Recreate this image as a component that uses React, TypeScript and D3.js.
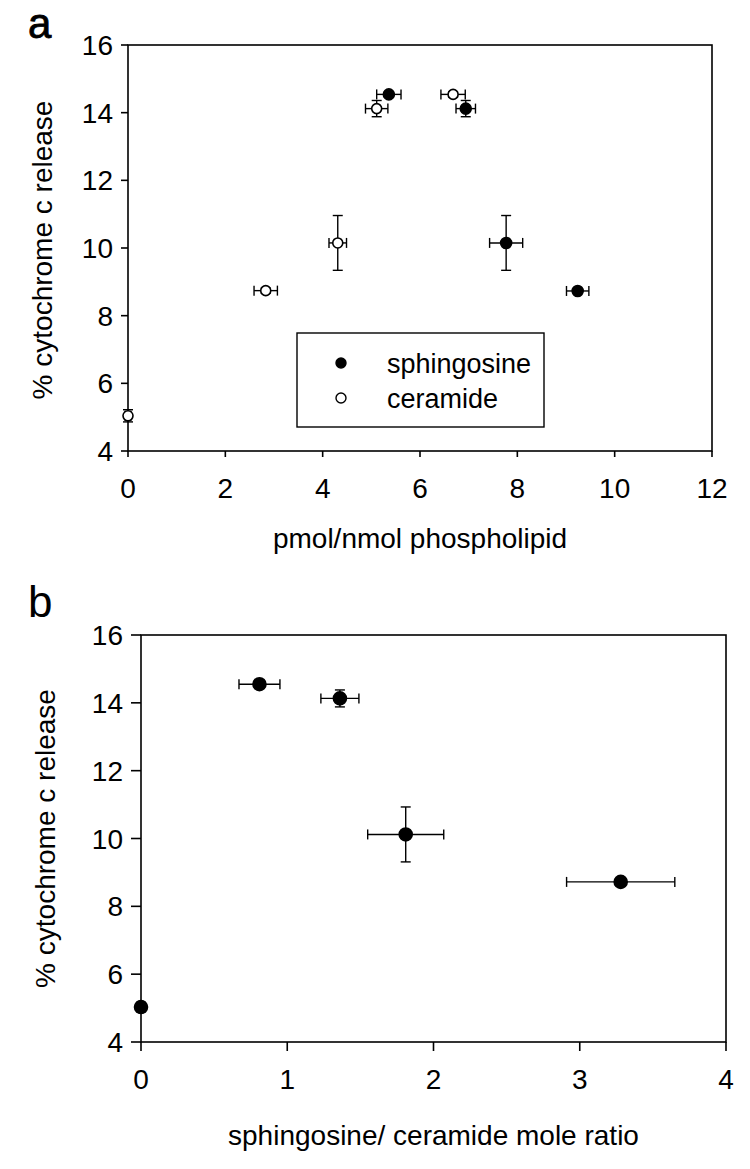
import React from "react";
import * as d3 from "d3";

// ---- Data ----
// Panel a: pmol/nmol phospholipid vs % cytochrome c release
const sphA_x = [5.36, 6.94, 7.77, 9.24];
const sphA_y = [14.54, 14.12, 10.15, 8.73];
const sphA_xerr = [0.25, 0.2, 0.34, 0.23];
const sphA_yerr = [0.08, 0.24, 0.81, 0.08];

const cerA_x = [0, 2.83, 4.31, 5.11, 6.68];
const cerA_y = [5.04, 8.74, 10.15, 14.12, 14.54];
const cerA_xerr = [0.06, 0.24, 0.18, 0.23, 0.25];
const cerA_yerr = [0.18, 0.08, 0.81, 0.24, 0.08];

// Panel b: sphingosine/ceramide mole ratio
const ratioB_x = [0, 0.81, 1.36, 1.81, 3.28];
const ratioB_y = [5.03, 14.55, 14.13, 10.12, 8.72];
const ratioB_xerr = [0, 0.14, 0.13, 0.26, 0.37];
const ratioB_yerr = [0.14, 0.08, 0.25, 0.81, 0.08];

const yTicks = [4, 6, 8, 10, 12, 14, 16];
const xTicksA = [0, 2, 4, 6, 8, 10, 12];
const xTicksB = [0, 1, 2, 3, 4];

const legendLabels = ["sphingosine", "ceramide"];

const FONT = "'Liberation Sans', Arial, sans-serif";

type Pt = { x: number; y: number; xe: number; ye: number };

function zip(xs: number[], ys: number[], xe: number[], ye: number[]): Pt[] {
  return xs.map((x, i) => ({ x, y: ys[i], xe: xe[i], ye: ye[i] }));
}

function ErrorPoint({
  p, xs, ys, r, filled, cap,
}: { p: Pt; xs: d3.ScaleLinear<number, number>; ys: d3.ScaleLinear<number, number>; r: number; filled: boolean; cap: number }) {
  const cx = xs(p.x);
  const cy = ys(p.y);
  const x0 = xs(p.x - p.xe), x1 = xs(p.x + p.xe);
  const y0 = ys(p.y - p.ye), y1 = ys(p.y + p.ye);
  return (
    <g stroke="#000" strokeWidth={1.4} fill="none">
      {p.xe > 0 && (
        <>
          <line x1={x0} x2={x1} y1={cy} y2={cy} />
          <line x1={x0} x2={x0} y1={cy - cap} y2={cy + cap} />
          <line x1={x1} x2={x1} y1={cy - cap} y2={cy + cap} />
        </>
      )}
      {p.ye > 0 && (
        <>
          <line x1={cx} x2={cx} y1={y0} y2={y1} />
          <line x1={cx - cap} x2={cx + cap} y1={y0} y2={y0} />
          <line x1={cx - cap} x2={cx + cap} y1={y1} y2={y1} />
        </>
      )}
      <circle cx={cx} cy={cy} r={r} fill={filled ? "#000" : "#fff"} strokeWidth={1.6} />
    </g>
  );
}

function Frame({
  xs, ys, xTicks, tickLen, fs,
}: { xs: d3.ScaleLinear<number, number>; ys: d3.ScaleLinear<number, number>; xTicks: number[]; tickLen: number; fs: number }) {
  const [l, r] = xs.range();
  const [b, t] = ys.range();
  return (
    <g>
      <rect x={l} y={t} width={r - l} height={b - t} fill="none" stroke="#000" strokeWidth={1.6} />
      {yTicks.map((v) => (
        <g key={"y" + v}>
          <line x1={l - tickLen} x2={l} y1={ys(v)} y2={ys(v)} stroke="#000" strokeWidth={1.6} />
          <text x={l - tickLen - 8} y={ys(v)} dy="0.36em" textAnchor="end" fontSize={fs} fontFamily={FONT}>
            {v}
          </text>
        </g>
      ))}
      {xTicks.map((v) => (
        <g key={"x" + v}>
          <line x1={xs(v)} x2={xs(v)} y1={b} y2={b + tickLen - 1} stroke="#000" strokeWidth={1.6} />
          <text x={xs(v)} y={b + 47} textAnchor="middle" fontSize={fs} fontFamily={FONT}>
            {v}
          </text>
        </g>
      ))}
    </g>
  );
}

export default function App() {
  const xA = d3.scaleLinear().domain([0, 12]).range([128, 712]);
  const yA = d3.scaleLinear().domain([4, 16]).range([451, 45]);
  const xB = d3.scaleLinear().domain([0, 4]).range([141, 726]);
  const yB = d3.scaleLinear().domain([4, 16]).range([1042, 635]);

  const sphA = zip(sphA_x, sphA_y, sphA_xerr, sphA_yerr);
  const cerA = zip(cerA_x, cerA_y, cerA_xerr, cerA_yerr);
  const ptsB = zip(ratioB_x, ratioB_y, ratioB_xerr, ratioB_yerr);

  const fs = 28;

  return (
    <svg width={750} height={1169} style={{ position: "absolute", left: 0, top: 0, background: "#fff" }}>
      <rect x={0} y={0} width={750} height={1169} fill="#fff" />
      {/* Panel a */}
      <text x={28} y={38} fontSize={42} fontFamily={FONT} stroke="#000" strokeWidth={0.8}>a</text>
      <Frame xs={xA} ys={yA} xTicks={xTicksA} tickLen={7} fs={fs} />
      <text
        transform={`translate(52, ${(yA(4) + yA(16)) / 2 + 2}) rotate(-90)`}
        textAnchor="middle" fontSize={fs} fontFamily={FONT}
      >
        % cytochrome c release
      </text>
      <text x={(xA(0) + xA(12)) / 2} y={548} textAnchor="middle" fontSize={fs} fontFamily={FONT}>
        pmol/nmol phospholipid
      </text>
      {cerA.map((p, i) => (
        <ErrorPoint key={"c" + i} p={p} xs={xA} ys={yA} r={5} filled={false} cap={5} />
      ))}
      {sphA.map((p, i) => (
        <ErrorPoint key={"s" + i} p={p} xs={xA} ys={yA} r={5.5} filled={true} cap={5} />
      ))}
      {/* Legend */}
      <g>
        <rect x={297} y={333} width={247} height={94} fill="#fff" stroke="#000" strokeWidth={1.4} />
        {legendLabels.map((lab, i) => (
          <g key={lab}>
            <circle cx={341} cy={363 + i * 35} r={5} fill={i === 0 ? "#000" : "#fff"} stroke="#000" strokeWidth={1.4} />
            <text x={387} y={363 + i * 35} dy="0.36em" fontSize={27} fontFamily={FONT}>
              {lab}
            </text>
          </g>
        ))}
      </g>

      {/* Panel b */}
      <text x={28} y={617} fontSize={44} fontFamily={FONT}>b</text>
      <Frame xs={xB} ys={yB} xTicks={xTicksB} tickLen={10} fs={fs} />
      <text
        transform={`translate(55, ${(yB(4) + yB(16)) / 2}) rotate(-90)`}
        textAnchor="middle" fontSize={fs} fontFamily={FONT}
      >
        % cytochrome c release
      </text>
      <text x={(xB(0) + xB(4)) / 2} y={1145} textAnchor="middle" fontSize={fs} fontFamily={FONT}>
        sphingosine/ ceramide mole ratio
      </text>
      {ptsB.map((p, i) => (
        <ErrorPoint key={"b" + i} p={p} xs={xB} ys={yB} r={6.5} filled={true} cap={5} />
      ))}
    </svg>
  );
}
